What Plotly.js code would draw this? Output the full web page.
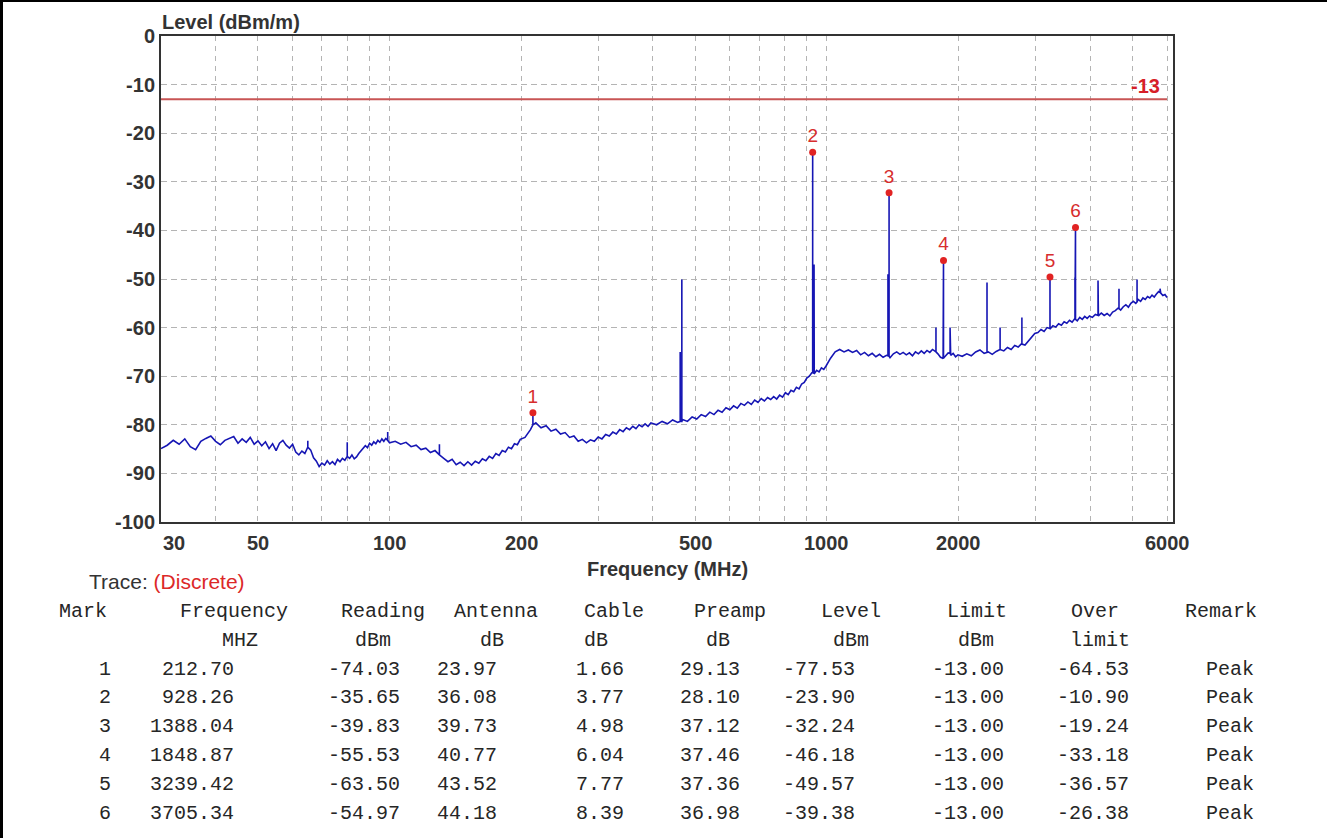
<!DOCTYPE html>
<html>
<head>
<meta charset="utf-8">
<script src="https://cdn.plot.ly/plotly-3.0.1.min.js"></script>
<style>html,body{margin:0;padding:0;background:#fff;}#chart{width:1327px;height:838px;}</style>
</head>
<body>
<div id="chart"></div>
<script>
// ---------- DATA ----------
// measured noise floor (MHz / dBm/m), read from the sweep
const noiseFreq = [
  30,31,32,33,34,35,36,37,38,39,
  40,41,42,43,44,45,46,47,48,49,
  50,51,52,53,54,55,56,57,58,59,
  60,
  61,62,63,64,65,66,67,68,69,70,
  71,72,73,74,75,76,77,78,79,80,
  81,82,83,84,85,86,87,88,89,90,
  91,92,93,94,95,96,97,98,99,100,
  103,106,109,112,115,118,121,124,127,130,
  133,136,139,142,145,148,151,154,157,160,
  163,166,169,172,175,178,181,184,187,190,
  193,196,199,
  204,210,216,222,228,234,240,246,252,258,
  264,270,276,282,288,294,300,306,312,318,
  324,330,336,342,348,354,360,366,372,378,
  384,390,396,
  408,420,432,444,456,468,480,492,504,516,
  528,540,552,564,576,588,600,612,624,636,
  648,660,672,684,696,708,720,732,744,756,
  768,780,792,804,816,828,840,852,864,876,
  888,900,912,924,936,948,960,972,984,996,
  1020,1045,1070,1095,1120,1145,1170,1195,1220,1245,
  1270,1295,1320,1345,1370,1395,1420,1445,1470,1495,
  1520,1545,1570,1595,1620,1645,1670,1695,1720,1745,
  1770,1795,1820,1845,1870,1895,1920,1945,1970,1995,
  2040,2090,2140,2190,2240,2290,2340,2390,2440,2490,
  2540,2590,2640,2690,2740,2790,2840,2890,2940,2990,
  3040,3090,3140,3190,3240,3290,3340,3390,3440,3490,
  3540,3590,3640,3690,3740,3790,3840,3890,3940,3990,
  4050,4115,4180,4245,4310,4375,4440,4505,4570,4635,
  4700,4765,4830,4895,4960,5025,5090,5155,5220,5285,
  5350,5415,5480,5545,5610,5675,5740,5805,5870,5935,
  6000
];
const noiseLevel = [
  -84.9,-84.2,-83.2,-84.0,-82.9,-84.5,-85.1,-83.4,-82.8,-82.3,
  -83.4,-84.1,-83.2,-82.8,-82.4,-83.8,-82.9,-83.6,-82.6,-84.0,
  -83.3,-84.3,-83.5,-84.9,-83.9,-85.3,-83.8,-83.2,-84.2,-84.8,
  -84.0,
  -85.6,-86.2,-85.4,-85.9,-84.6,-85.2,-86.8,-87.5,-88.6,-87.9,
  -88.3,-87.4,-88.1,-87.6,-88.2,-87.1,-87.6,-86.9,-87.3,-86.5,
  -86.9,-86.2,-87.0,-86.6,-85.9,-85.3,-84.9,-84.3,-84.7,-83.8,
  -84.2,-83.5,-83.9,-83.2,-83.6,-82.9,-83.4,-82.8,-83.2,-83.7,
  -83.4,-84.0,-83.6,-84.5,-84.2,-85.1,-84.8,-85.7,-85.3,-86.2,
  -86.9,-87.6,-87.1,-88.2,-87.7,-88.4,-87.6,-88.3,-87.5,-87.9,
  -87.0,-87.4,-86.5,-86.9,-85.9,-86.3,-85.3,-85.6,-84.6,-84.9,
  -83.9,-84.1,-83.0,
  -82.6,-81.0,-79.6,-80.6,-80.2,-81.3,-80.9,-81.9,-81.6,-82.6,
  -82.3,-83.4,-83.0,-83.7,-83.1,-83.4,-82.5,-82.9,-82.0,-82.3,
  -81.5,-81.9,-81.0,-81.4,-80.6,-81.0,-80.3,-80.8,-80.0,-80.4,
  -79.8,-80.3,-79.6,
  -80.0,-79.3,-79.8,-79.0,-79.5,-78.9,-79.3,-78.4,-78.8,-77.9,
  -78.3,-77.4,-77.9,-77.0,-77.4,-76.5,-76.9,-76.1,-76.6,-75.6,
  -76.0,-75.3,-75.8,-74.9,-75.4,-74.6,-75.1,-74.4,-74.8,-74.2,
  -74.7,-73.9,-74.3,-73.4,-73.8,-72.9,-73.2,-72.3,-72.6,-71.6,
  -71.3,-70.4,-70.0,-69.3,-69.5,-68.8,-69.1,-68.3,-68.6,-67.9,
  -66.3,-65.0,-64.5,-65.0,-64.6,-65.1,-64.7,-65.6,-65.1,-65.8,
  -65.3,-66.0,-65.5,-66.1,-65.7,-66.2,-65.4,-65.0,-65.5,-65.1,
  -65.6,-65.2,-65.8,-65.0,-65.4,-64.8,-65.3,-64.7,-65.1,-64.5,
  -65.0,-65.4,-66.1,-66.4,-65.8,-65.2,-65.7,-65.3,-66.0,-65.6,
  -65.9,-65.4,-65.8,-65.0,-64.6,-65.3,-65.0,-65.5,-64.9,-64.5,
  -64.8,-64.1,-64.5,-63.7,-64.0,-63.3,-63.6,-62.8,-62.0,-61.2,
  -61.0,-60.4,-60.8,-60.0,-60.3,-59.6,-59.9,-59.2,-59.5,-58.8,
  -59.1,-58.5,-58.9,-58.2,-58.6,-57.9,-58.3,-57.7,-58.1,-57.6,
  -57.9,-57.3,-57.6,-57.0,-57.5,-57.1,-57.6,-56.8,-56.5,-56.0,
  -56.4,-55.7,-55.3,-55.8,-55.0,-54.6,-55.0,-54.2,-54.6,-53.9,
  -54.2,-53.6,-53.9,-53.3,-53.7,-53.1,-52.6,-52.9,-53.4,-53.2,
  -53.8
];
// narrow emissions (frequency MHz, floor level, peak level)
const spikeFreq = [65, 80, 99, 130, 212.70, 462, 466, 928.26, 935, 1380, 1388.04, 1777, 1842, 1848.87, 1914, 2325, 2491, 2794, 3239.42, 3695, 3705.34, 4172, 4659, 5124, 5784];
const spikeBase = [-84.6, -86.5, -83.2, -86.2, -80.0, -79.3, -79.3, -69.3, -69.4, -65.8, -65.9, -65.0, -66.3, -66.3, -65.3, -65.1, -64.5, -63.4, -60.2, -58.3, -58.3, -57.5, -56.1, -54.7, -52.8];
const spikePeak = [-83.3, -83.6, -81.5, -84.0, -77.53, -65.0, -50.1, -23.90, -47.0, -49.0, -32.24, -60.0, -56.0, -46.18, -60.0, -50.7, -60.0, -57.9, -49.57, -49.7, -39.38, -50.3, -52.0, -50.1, -52.0];

const limitValue = -13;

const markNo = [1, 2, 3, 4, 5, 6];
const markFreq = [212.70, 928.26, 1388.04, 1848.87, 3239.42, 3705.34];
const reading = [-74.03, -35.65, -39.83, -55.53, -63.50, -54.97];
const antenna = [23.97, 36.08, 39.73, 40.77, 43.52, 44.18];
const cable = [1.66, 3.77, 4.98, 6.04, 7.77, 8.39];
const preamp = [29.13, 28.10, 37.12, 37.46, 37.36, 36.98];
const level = [-77.53, -23.90, -32.24, -46.18, -49.57, -39.38];
const limit = [-13.00, -13.00, -13.00, -13.00, -13.00, -13.00];
const overLimit = [-64.53, -10.90, -19.24, -33.18, -36.57, -26.38];
const remark = ['Peak', 'Peak', 'Peak', 'Peak', 'Peak', 'Peak'];

const xGridVals = [30,40,50,60,70,80,90,100,200,300,400,500,600,700,800,900,1000,2000,3000,4000,5000,6000];
const xTickLabelVals = [30, 50, 100, 200, 500, 1000, 2000, 6000];
const yTickVals = [0,-10,-20,-30,-40,-50,-60,-70,-80,-90,-100];

// ---------- LAYOUT GEOMETRY ----------
const W = 1327, H = 838, L = 161, R = 1173, T = 36, B = 522;
const px2x = px => (px - L) / (R - L);
const py2y = py => (B - py) / (B - T);

// build the measured trace (floor + emissions)
const pts = noiseFreq.map((f, i) => ({f: f, y: noiseLevel[i], o: 0}));
spikeFreq.forEach((f, i) => {
  pts.push({f: f, y: spikeBase[i], o: 1}, {f: f, y: spikePeak[i], o: 2}, {f: f, y: spikeBase[i], o: 3});
});
pts.sort((a, b) => (a.f - b.f) || (a.o - b.o));

const traceMeas = {
  x: pts.map(p => p.f), y: pts.map(p => p.y),
  type: 'scatter', mode: 'lines',
  line: {color: 'rgb(22,22,180)', width: 1.6},
  hoverinfo: 'skip'
};
const traceLimit = {
  x: [30, 6000], y: [limitValue, limitValue],
  type: 'scatter', mode: 'lines',
  line: {color: 'rgb(200,85,85)', width: 2},
  hoverinfo: 'skip'
};
const traceMarks = {
  x: markFreq, y: level, text: markNo.map(String),
  type: 'scatter', mode: 'markers+text', textposition: 'top center',
  marker: {color: 'rgb(225,35,35)', size: 7},
  textfont: {family: 'Liberation Sans, Arial, sans-serif', size: 19, color: 'rgb(215,45,45)'},
  hoverinfo: 'skip'
};

const sans = 'Liberation Sans, Arial, sans-serif';
const mono = 'Liberation Mono, Courier New, monospace';
const axisColor = '#333';

const annotations = [];
function addText(text, px, py, anchor, font) {
  annotations.push({text: text, xref: 'paper', yref: 'paper', x: px2x(px), y: py2y(py),
    xanchor: anchor, yanchor: 'middle', showarrow: false, font: font});
}
const boldFont = {family: sans, size: 20, color: axisColor, weight: 'bold'};
// x tick labels
xTickLabelVals.forEach(v => {
  annotations.push({text: String(v), xref: 'x', yref: 'paper', x: Math.log10(v), y: py2y(543),
    xanchor: v === 30 ? 'left' : 'center', yanchor: 'middle', showarrow: false, font: boldFont});
});
addText('Level (dBm/m)', 160, 22, 'left', boldFont);
addText('Frequency (MHz)', 667, 569, 'center', boldFont);
addText('-13', 1162, 86, 'right', {family: sans, size: 20, color: 'rgb(215,30,40)', weight: 'bold'});
addText('Trace: <span style="color:rgb(220,40,40)">(Discrete)</span>', 87, 581, 'left', {family: sans, size: 21, color: '#333'});

// table
const tf = {family: mono, size: 20, color: '#262626'};
const hdr1 = 611, hdr2 = 640, row0 = 669, rowStep = 28.8;
[['Mark',57],['Frequency',178],['Reading',339],['Antenna',452],['Cable',582],['Preamp',692],['Level',819],['Limit',945],['Over',1069],['Remark',1183]]
  .forEach(h => addText(h[0], h[1], hdr1, 'left', tf));
[['MHZ',220],['dBm',353],['dB',478],['dB',582],['dB',704],['dBm',831],['dBm',956],['limit',1068]]
  .forEach(h => addText(h[0], h[1], hdr2, 'left', tf));
markNo.forEach((m, i) => {
  const py = row0 + i * rowStep;
  addText(String(m), 105, py, 'center', tf);
  addText(markFreq[i].toFixed(2), 236, py, 'right', tf);
  addText(reading[i].toFixed(2), 402, py, 'right', tf);
  addText(antenna[i].toFixed(2), 499, py, 'right', tf);
  addText(cable[i].toFixed(2), 626, py, 'right', tf);
  addText(preamp[i].toFixed(2), 742, py, 'right', tf);
  addText(level[i].toFixed(2), 857, py, 'right', tf);
  addText(limit[i].toFixed(2), 1006, py, 'right', tf);
  addText(overLimit[i].toFixed(2), 1131, py, 'right', tf);
  addText(remark[i], 1256, py, 'right', tf);
});

const layout = {
  width: W, height: H,
  margin: {l: L, r: W - R, t: T, b: H - B, pad: 0},
  paper_bgcolor: '#ffffff', plot_bgcolor: '#ffffff',
  showlegend: false,
  xaxis: {
    type: 'log', range: [Math.log10(30), Math.log10(6192)],
    tickmode: 'array', tickvals: xGridVals, ticktext: xGridVals.map(() => ''),
    ticks: '', showgrid: true, gridcolor: '#b4b4b4', gridwidth: 1, griddash: '5px,5px',
    showline: true, mirror: true, linecolor: axisColor, linewidth: 2, zeroline: false,
    fixedrange: true
  },
  yaxis: {
    range: [-100, 0], tickmode: 'array', tickvals: yTickVals, ticktext: yTickVals.map(v => String(v)),
    ticks: '', ticklabelstandoff: 0,
    tickfont: {family: sans, size: 20, color: axisColor, weight: 'bold'},
    showgrid: true, gridcolor: '#b4b4b4', gridwidth: 1, griddash: '6px,4px',
    showline: true, mirror: true, linecolor: axisColor, linewidth: 2, zeroline: false,
    fixedrange: true
  },
  annotations: annotations,
  shapes: [
    {type: 'line', xref: 'paper', yref: 'paper', x0: px2x(0), x1: px2x(W), y0: py2y(1), y1: py2y(1), line: {color: '#000', width: 2}},
    {type: 'line', xref: 'paper', yref: 'paper', x0: px2x(1.5), x1: px2x(1.5), y0: py2y(0), y1: py2y(H), line: {color: '#000', width: 3}}
  ]
};

Plotly.newPlot('chart', [traceMeas, traceLimit, traceMarks], layout, {displayModeBar: false, staticPlot: true});
</script>
</body>
</html>
